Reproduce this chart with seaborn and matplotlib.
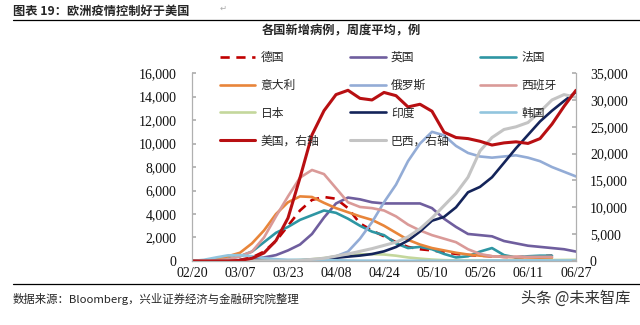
import numpy as np
import pandas as pd
import seaborn as sns
import matplotlib.pyplot as plt
from matplotlib.lines import Line2D
from matplotlib.ticker import FuncFormatter

nan = np.nan

# 4日刻みの日付 (02/20 - 06/27)
dates = pd.date_range("2020-02-20", "2020-06-27", freq="4D")
tick_dates = pd.to_datetime(["2020-02-20", "2020-03-07", "2020-03-23", "2020-04-08", "2020-04-24",
                             "2020-05-10", "2020-05-26", "2020-06-11", "2020-06-27"])

# 左軸 (例)
germany = [0, 0, 0, 0, 100, 300, 800, 1700, 3000, 4300, 5200, 5450, 5300, 4500, 3200, 2600,
           2100, 1600, 1200, 1000, 900, 750, 600, 500, 450, 400, 350, 330, 350, 400, 450, nan, nan]
uk = [0, 0, 10, 30, 80, 150, 300, 500, 900, 1400, 2300, 3700, 4900, 5400, 5250, 5000,
      4900, 4900, 4900, 4900, 4500, 3600, 2900, 2300, 2200, 2100, 1700, 1500, 1300, 1200, 1100, 1000, 800]
france = [0, 30, 80, 200, 400, 800, 1600, 2400, 2900, 3500, 3900, 4300, 4100, 3600, 3000, 2500,
          2200, 1500, 1100, 1200, 1000, 600, 300, 400, 800, 1100, 500, 300, 400, 450, 450, nan, nan]
italy = [0, 50, 150, 400, 700, 1500, 2600, 4000, 5000, 5500, 5450, 4950, 4500, 4150, 3800, 3500,
         3000, 2400, 1800, 1400, 1100, 900, 700, 550, 450, 400, 350, 320, 300, 280, 270, nan, nan]
russia = [0, 0, 0, 0, 0, 10, 20, 30, 40, 60, 100, 200, 400, 800, 1900, 3300,
          5000, 6500, 8500, 10000, 11000, 10700, 9800, 9200, 8900, 8800, 8900, 9000, 8800, 8500, 8000, 7600, 7200]
spain = [0, 0, 50, 150, 400, 800, 2000, 3800, 5500, 7100, 7750, 7400, 6200, 5000, 4600, 4500,
         4300, 3800, 3100, 2600, 2200, 1900, 1600, 1000, 600, 400, 350, 350, 350, 350, 350, nan, nan]
japan = [0, 0, 10, 20, 30, 40, 50, 50, 60, 80, 150, 250, 400, 500, 560, 580,
         550, 450, 300, 200, 120, 70, 50, 40, 40, 40, 40, 40, 50, 60, 80, 90, 100]
india = [0, 0, 0, 0, 0, 0, 0, 0, 20, 50, 90, 180, 270, 370, 460, 590,
         820, 1190, 1740, 2510, 3430, 3750, 4570, 5850, 6310, 7130, 8360, 9600, 10740, 11880, 12800, 13620, 14400]
korea = [0, 100, 300, 480, 500, 400, 250, 150, 100, 100, 90, 80, 60, 40, 30, 30,
         20, 20, 20, 20, 20, 20, 20, 20, 30, 40, 40, 40, 50, 50, 40, 40, 40]

# 右軸
usa = [0, 0, 0, 0, 100, 500, 1500, 3800, 8000, 15500, 23500, 28000, 31000, 31800, 30300, 30000,
       31400, 30800, 28700, 29200, 27900, 24000, 23000, 22800, 22300, 21600, 22000, 22200, 21900, 22800, 25500, 28800, 31800]
brazil = [0, 0, 0, 0, 0, 0, 0, 0, 0, 100, 300, 500, 900, 1300, 1800, 2300,
          2900, 3500, 4500, 6000, 8000, 10300, 12600, 15600, 20500, 23000, 24500, 25000, 25800, 27800, 30000, 31000, 30500]

sns.set_theme(style="white")
cjk = ["Noto Sans CJK SC", "DejaVu Sans"]
plt.rcParams["font.family"] = ["Liberation Serif", "DejaVu Serif"]

fig = plt.figure(figsize=(6.4, 3.25), dpi=100)
ax = fig.add_axes([0.3, 0.197, 0.6, 0.578])
ax2 = ax.twinx()

left_series = [
    ("德国", germany, "#C00000", (0, (3.5, 2.5))),
    ("英国", uk, "#6F5E9E", "-"),
    ("法国", france, "#2E96A3", "-"),
    ("意大利", italy, "#E8853A", "-"),
    ("俄罗斯", russia, "#93ACD6", "-"),
    ("西班牙", spain, "#DA9A98", "-"),
    ("日本", japan, "#C4D79C", "-"),
    ("印度", india, "#14245A", "-"),
    ("韩国", korea, "#92C5DE", "-"),
]
right_series = [
    ("巴西，右轴", brazil, "#C4C4C4", "-"),
    ("美国，右轴", usa, "#B80F12", "-"),
]

handles = {}
for name, vals, color, ls in left_series:
    sns.lineplot(x=dates, y=vals, ax=ax, color=color, linewidth=1.9, linestyle=ls)
    handles[name] = Line2D([], [], color=color, linewidth=1.9, linestyle=ls)
for name, vals, color, ls in right_series:
    sns.lineplot(x=dates, y=vals, ax=ax2, color=color, linewidth=2.2, linestyle=ls)
    handles[name] = Line2D([], [], color=color, linewidth=2.2, linestyle=ls)

for a in (ax, ax2):
    a.set_xlim(dates[0], dates[-1])
    a.set_xlabel("")
    a.set_ylabel("")
    a.grid(False)
    for s in a.spines.values():
        s.set_color("#B0B0B0")
        s.set_linewidth(0.8)
    a.spines["top"].set_visible(False)

ax.set_ylim(0, 16000)
ax.set_yticks(range(0, 16001, 2000))
ax2.set_ylim(0, 35000)
ax2.set_yticks(range(0, 35001, 5000))
fmt = FuncFormatter(lambda v, p: f"{int(v):,}")
ax.yaxis.set_major_formatter(fmt)
ax2.yaxis.set_major_formatter(fmt)

ax.set_xticks(tick_dates)
ax.set_xticklabels([d.strftime("%m/%d") for d in tick_dates])
ax.tick_params(axis="x", length=0, pad=4, labelsize=10, colors="#111111")
ax.tick_params(axis="y", direction="in", length=3, color="#B0B0B0", pad=11, labelsize=10, labelcolor="#111111")
ax2.tick_params(axis="y", direction="in", length=3, color="#B0B0B0", pad=10, labelsize=10, labelcolor="#111111")

# 凡例 (3列、行優先の並び)
order = ["德国", "意大利", "日本", "美国，右轴",
         "英国", "俄罗斯", "印度", "巴西，右轴",
         "法国", "西班牙", "韩国"]
fig.legend([handles[n] for n in order], order, ncol=3, frameon=False,
           loc="upper left", bbox_to_anchor=(220 / 640, 1 - 51 / 325),
           borderpad=0, borderaxespad=0, handlelength=3.0, handletextpad=0.45,
           columnspacing=2.6, labelspacing=1.25, prop={"family": cjk, "size": 8.5})

# タイトル・出所
fig.text(13 / 640, 1 - 11 / 325, "图表 19：欧洲疫情控制好于美国", fontsize=8.8, fontweight="bold",
         va="center", ha="left", family=cjk)
fig.text(220 / 640, 1 - 8 / 325, "↵", fontsize=6, color="#aaaaaa", va="center", family=cjk)
fig.add_artist(Line2D([13 / 640, 1.0], [1 - 20 / 325] * 2, color="black", linewidth=0.9))
fig.text(262 / 640, 1 - 31 / 325, "各国新增病例，周度平均，例", fontsize=8.8, fontweight="bold",
         va="center", ha="left", family=cjk)
fig.add_artist(Line2D([13 / 640, 1.0], [1 - 284 / 325] * 2, color="black", linewidth=0.9))
fig.text(13 / 640, 1 - 299 / 325, "数据来源：Bloomberg，兴业证券经济与金融研究院整理", fontsize=8.2,
         va="center", ha="left", family=cjk)
fig.text(630 / 640, 1 - 298 / 325, "头条 @未来智库", fontsize=11, color="#333333",
         va="center", ha="right", family=cjk)

fig.savefig("out.png", dpi=100)
plt.close(fig)
